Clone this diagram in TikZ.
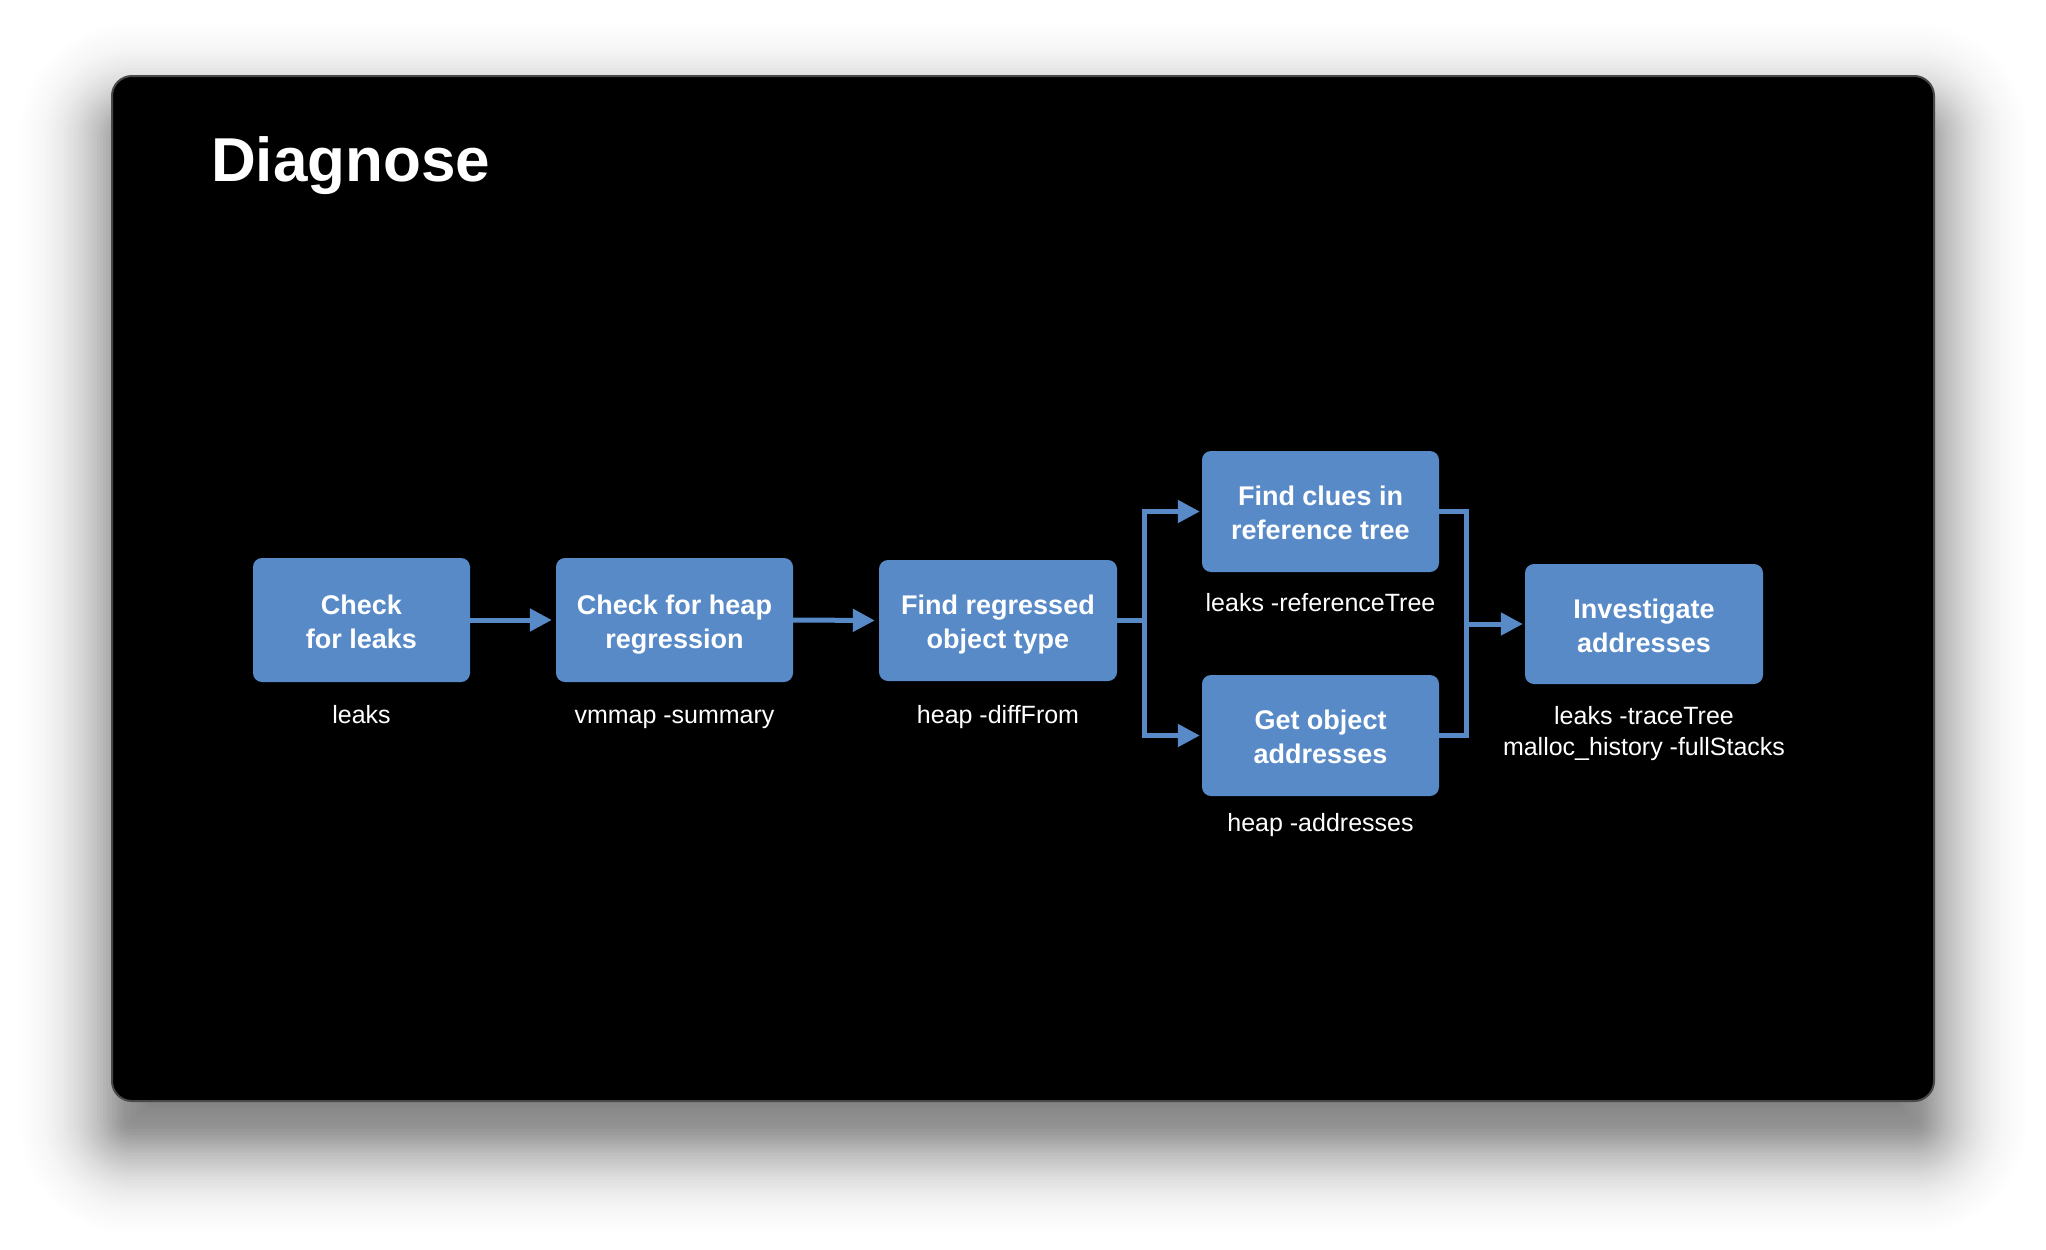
\documentclass[tikz,border=0pt]{standalone}
\usepackage{fontspec}
\setmainfont{Liberation Sans}
\usetikzlibrary{arrows.meta}
\definecolor{boxblue}{RGB}{88,138,200}
\definecolor{panelgray}{RGB}{72,72,72}
\begin{document}
\begin{tikzpicture}[x=1pt,y=-1pt,
  stepbox/.style={fill=boxblue, rounded corners=9pt, inner sep=0pt, align=center, text=white,
    font=\fontsize{27}{34}\selectfont\bfseries, text height=60pt, text depth=4pt},
  lab/.style={text=white, font=\fontsize{25}{31}\selectfont, align=center, inner sep=0pt},
  link/.style={draw=boxblue, line width=5pt, line cap=rect},
  flow/.style={draw=boxblue, line width=5pt, -{Triangle[length=22pt,width=22pt]}, shorten >=4pt}
]
\useasboundingbox (0,0) rectangle (2046,1250);
\fill[white] (0,0) rectangle (2046,1250);
% soft drop shadow of the panel: many faint nested layers (gaussian profile)
\foreach \d in {-99,-96,...,132}{
  \pgfmathsetmacro{\rr}{max(20+\d,2)}
  \pgfmathsetmacro{\op}{0.0185*exp(-0.5*(\d/45)^2)}
  \fill[black, opacity=\op, rounded corners=\rr pt] (112-\d,116-\d) rectangle (1934+\d,1141+\d);
}
\path[fill=black, draw=panelgray, line width=2pt, rounded corners=20pt] (112,76) rectangle (1934,1101);

\node[anchor=base west, text=white, inner sep=0pt, font=\fontsize{62}{70}\selectfont\bfseries] (title) at (211,181) {Diagnose};

\node[stepbox, minimum width=217pt, minimum height=124pt] (b1) at (361.5,620) {Check\\for leaks};
\node[stepbox, minimum width=237pt, minimum height=124pt] (b2) at (674.5,620) {Check for heap\\regression};
\node[stepbox, minimum width=238pt, minimum height=121pt] (b3) at (998,620.5) {Find regressed\\object type};
\node[stepbox, minimum width=237pt, minimum height=121pt] (b4) at (1320.5,511.5) {Find clues in\\reference tree};
\node[stepbox, minimum width=237pt, minimum height=121pt] (b5) at (1320.5,735.5) {Get object\\addresses};
\node[stepbox, minimum width=238pt, minimum height=120pt] (b6) at (1644,624) {Investigate\\addresses};

\node[lab, anchor=base] (l1) at (361.5,723) {leaks};
\node[lab, anchor=base] (l2) at (674.5,723) {vmmap -summary};
\node[lab, anchor=base] (l3) at (998,723) {heap -diffFrom};
\node[lab, anchor=base] (l4) at (1320.5,611) {leaks -referenceTree};
\node[lab, anchor=base] (l5) at (1320.5,831) {heap -addresses};
\node[lab, anchor=center] (l6) at (1644,734) {leaks -traceTree\\malloc\_history -fullStacks};

\coordinate (fork) at (1144,620.5);
\coordinate (merge) at (1466,624);

\draw[flow] (b1.east) -- (b2.west);
\draw[flow] (b2.east) -- (b3.west);
\draw[link] (b3.east) -- (fork);
\draw[flow, shorten >=2pt] (fork) |- (b4.west);
\draw[flow, shorten >=2pt] (fork) |- (b5.west);
\draw[link] (b4.east) -| (merge);
\draw[link] (b5.east) -| (merge);
\draw[flow, shorten >=2pt] (merge) -- (b6.west);
\end{tikzpicture}
\end{document}
